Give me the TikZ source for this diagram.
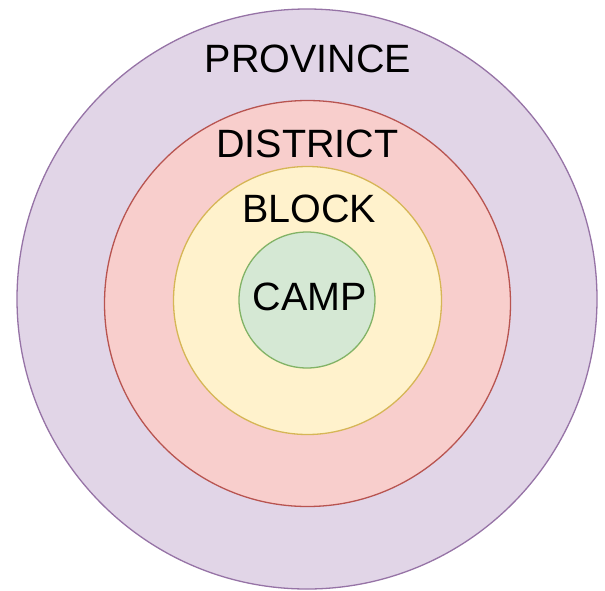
\documentclass[tikz,border=0pt]{standalone}
\usepackage{fontspec}
\setmainfont{Liberation Sans}
\definecolor{provfill}{HTML}{E1D5E7}
\definecolor{provline}{HTML}{9673A6}
\definecolor{distfill}{HTML}{F8CECC}
\definecolor{distline}{HTML}{B85450}
\definecolor{blockfill}{HTML}{FFF2CC}
\definecolor{blockline}{HTML}{D6B656}
\definecolor{campfill}{HTML}{D5E8D4}
\definecolor{campline}{HTML}{82B366}
\tikzset{
  ring/.style={line width=1.3pt},
  lbl/.style={anchor=base, inner sep=0pt, font=\fontsize{39.5}{40}\selectfont, text=black}
}
\begin{document}
\begin{tikzpicture}[x=1pt, y=-1pt]
\useasboundingbox (0,0) rectangle (605,590);
% nested regions, outermost first
\draw[ring, fill=provfill, draw=provline] (307,299) circle (290);
\draw[ring, fill=distfill, draw=distline] (307.5,303.5) circle (203);
\draw[ring, fill=blockfill, draw=blockline] (307.5,300.5) circle (134);
\draw[ring, fill=campfill, draw=campline] (307,300) circle (68);
% level names
\node[lbl] (province) at (308,72) {PROVINCE};
\node[lbl] (district) at (307.5,157) {DISTRICT};
\node[lbl] (block) at (309,222) {BLOCK};
\node[lbl] (camp) at (310,310) {CAMP};
\end{tikzpicture}
\end{document}
